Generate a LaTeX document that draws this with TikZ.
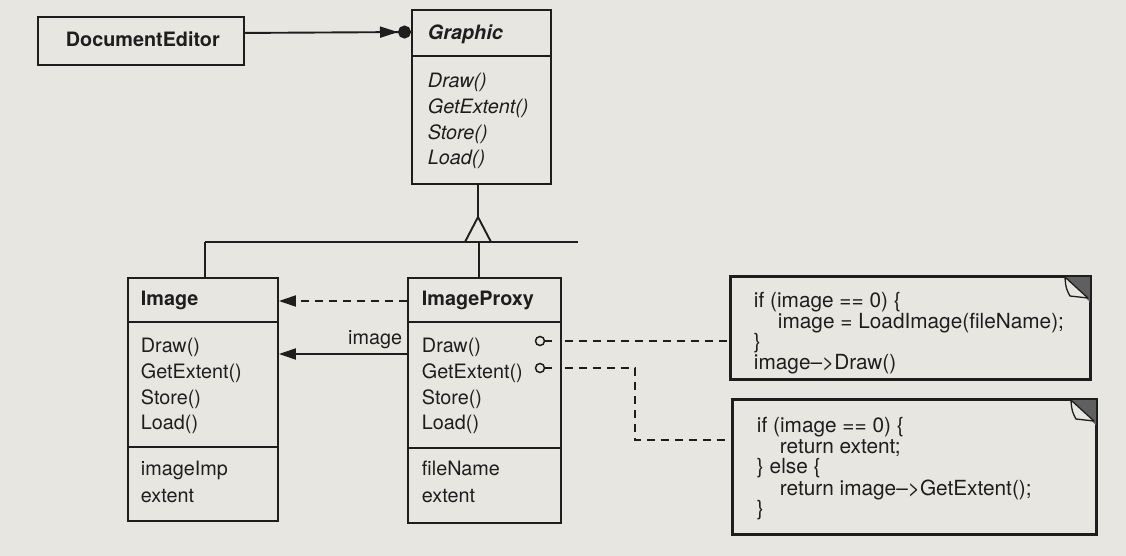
\documentclass[tikz,border=0pt]{standalone}
\usepackage{fontspec}
\setmainfont{TeX Gyre Heros}
\usetikzlibrary{arrows.meta}
\definecolor{paper}{RGB}{232,230,225}
\definecolor{ink}{RGB}{30,30,30}
\definecolor{earshade}{RGB}{95,95,95}
\begin{document}
\begin{tikzpicture}[x=1pt,y=-1pt,line width=1.9pt,
  cls/.style={draw=ink,line width=1.9pt,inner sep=0pt,anchor=north west},
  txt/.style={anchor=base west,inner sep=0pt,text=ink,font=\fontsize{19.8}{22}\selectfont},
  btxt/.style={txt,font=\fontsize{19.8}{22}\selectfont\bfseries},
  itxt/.style={txt,font=\fontsize{19.8}{22}\selectfont\itshape},
  bitxt/.style={txt,font=\fontsize{19.8}{22}\selectfont\bfseries\itshape},
  ntxt/.style={anchor=base west,inner sep=0pt,text=ink,font=\fontsize{20.8}{23}\selectfont},
  dsh/.style={draw=ink,dash pattern=on 8pt off 6pt},
  tip/.style={-{Triangle[length=17pt,width=11pt]}},
  lolly/.style={circle,draw=ink,line width=1.5pt,minimum size=9pt,inner sep=0pt},
  ear/.style={fill=earshade},
  flap/.style={fill=paper,draw=ink,line width=1.3pt,line join=round}]
\fill[paper] (0,0) rectangle (1126,556);
\useasboundingbox (0,0) rectangle (1126,556);

% DocumentEditor
\node[cls,minimum width=206pt,minimum height=48pt] (de) at (37,16) {};
\node[btxt] (detxt) at (65,47) {DocumentEditor};

% Graphic
\node[cls,minimum width=139pt,minimum height=174pt] (graphic) at (411,9) {};
\draw[ink] (graphic.north west |- 0,56) -- (graphic.north east |- 0,56);
\node[bitxt] (gname) at (427,40) {Graphic};
\node[itxt] (g1) at (427,88) {Draw()};
\node[itxt] (g2) at (427,114) {GetExtent()};
\node[itxt] (g3) at (427,140) {Store()};
\node[itxt] (g4) at (427,165) {Load()};

% association DocumentEditor -> Graphic
\draw[ink,-{Triangle[length=18pt,width=11pt,sep=0pt]Circle[length=13pt,width=13pt]}]
  ([yshift=8pt]de.east) -- ([yshift=-23pt]graphic.north west);

% Image
\node[cls,minimum width=150pt,minimum height=243pt] (image) at (127,277) {};
\draw[ink] (image.west |- 0,322) -- (image.east |- 0,322);
\draw[ink] (image.west |- 0,447) -- (image.east |- 0,447);
\node[btxt] (iname) at (140,305) {Image};
\node[txt] (i1) at (140,352) {Draw()};
\node[txt] (i2) at (140,378) {GetExtent()};
\node[txt] (i3) at (140,404) {Store()};
\node[txt] (i4) at (140,429) {Load()};
\node[txt] (i5) at (140,475) {imageImp};
\node[txt] (i6) at (140,502) {extent};

% ImageProxy
\node[cls,minimum width=153pt,minimum height=245pt] (proxy) at (407,277) {};
\draw[ink] (proxy.west |- 0,322) -- (proxy.east |- 0,322);
\draw[ink] (proxy.west |- 0,448) -- (proxy.east |- 0,448);
\node[btxt] (pname) at (421,305) {ImageProxy};
\node[txt] (p1) at (421,352) {Draw()};
\node[txt] (p2) at (421,378) {GetExtent()};
\node[txt] (p3) at (421,404) {Store()};
\node[txt] (p4) at (421,429) {Load()};
\node[txt] (p5) at (421,475) {fileName};
\node[txt] (p6) at (421,502) {extent};

% inheritance
\coordinate (apex) at (478,217);
\coordinate (busL) at (205,242);
\coordinate (busP) at (479,242);
\coordinate (busR) at (578,242);
\draw[ink] (apex |- graphic.south) -- (apex);
\draw[ink,fill=paper,line join=miter] (apex) -- (465,242) -- (491,242) -- cycle;
\draw[ink] (busL) -- (busR);
\draw[ink] (busL) -- (busL |- image.north);
\draw[ink] (busP) -- (busP |- proxy.north);

% proxy -> image
\draw[dsh,tip] ([yshift=-24pt]proxy.north west) -- ([yshift=-24pt]image.north east);
\draw[ink,tip] ([yshift=-77pt]proxy.north west) -- ([yshift=-77pt]image.north east);
\node[txt,anchor=base east] (lbl) at (403,344) {image};

% notes
\node[cls,minimum width=359pt,minimum height=102pt] (n1) at (730,276) {};
\node[cls,minimum width=363pt,minimum height=134pt] (n2) at (732,399) {};
\fill[ear] ([xshift=-27pt]n1.north east) -- (n1.north east) -- ([yshift=-27pt]n1.north east) -- cycle;
\draw[flap] ([xshift=-26pt,yshift=-1pt]n1.north east) .. controls ([xshift=-25pt,yshift=-12pt]n1.north east) .. ([xshift=-21pt,yshift=-20pt]n1.north east) -- ([xshift=-3pt,yshift=-22pt]n1.north east) -- cycle;
\draw[ink] (n1.north west) rectangle (n1.south east);
\fill[ear] ([xshift=-27pt]n2.north east) -- (n2.north east) -- ([yshift=-27pt]n2.north east) -- cycle;
\draw[flap] ([xshift=-26pt,yshift=-1pt]n2.north east) .. controls ([xshift=-25pt,yshift=-12pt]n2.north east) .. ([xshift=-21pt,yshift=-20pt]n2.north east) -- ([xshift=-3pt,yshift=-22pt]n2.north east) -- cycle;
\draw[ink] (n2.north west) rectangle (n2.south east);

\node[ntxt] (n1a) at (753,307.5) {if (image == 0) \{};
\node[ntxt] (n1b) at (777,328.5) {image = LoadImage(fileName);};
\node[ntxt] (n1c) at (753,348.5) {\}};
\node[ntxt] (n1d) at (753,369.5) {image–>Draw()};

\node[ntxt] (n2a) at (756,432) {if (image == 0) \{};
\node[ntxt] (n2b) at (779,453) {return extent;};
\node[ntxt] (n2c) at (756,473) {\} else \{};
\node[ntxt] (n2d) at (779,495) {return image–>GetExtent();};
\node[ntxt] (n2e) at (756,515) {\}};

% lollipops and note links
\node[lolly] (c1) at (540,341) {};
\node[lolly] (c2) at (540,368) {};
\coordinate (s1) at (552,341);
\coordinate (s2) at (552,368);
\draw[ink,line width=1.5pt] (c1.east) -- (s1);
\draw[ink,line width=1.5pt] (c2.east) -- (s2);
\coordinate (bend) at (635,440);
\draw[dsh] ([xshift=3pt]c1 -| proxy.east) -- (c1 -| n1.west);
\draw[dsh] ([xshift=3pt]c2 -| proxy.east) -| (bend) -- (bend -| n2.west);
\end{tikzpicture}
\end{document}
